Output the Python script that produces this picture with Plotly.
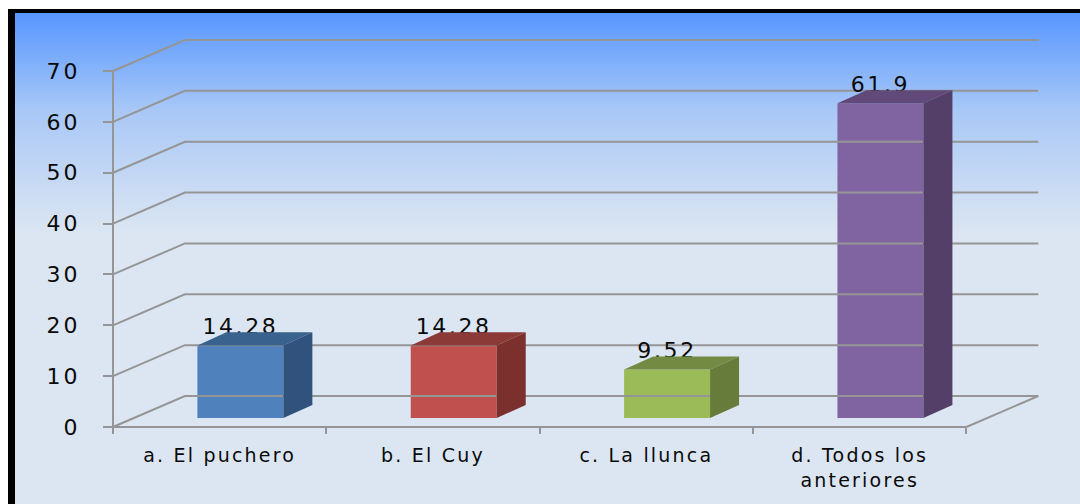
import plotly.graph_objects as go

categories = ["a. El puchero", "b. El Cuy", "c. La llunca", "d. Todos los<br>anteriores"]
values = [14.28, 14.28, 9.52, 61.9]
value_labels = ["14.28", "14.28", "9.52", "61.9"]
y_ticks = [0, 10, 20, 30, 40, 50, 60, 70]

front_colors = ["#4F81BD", "#C0504D", "#9BBB59", "#8064A2"]
side_colors = ["#30527C", "#7B302E", "#677C3B", "#533F68"]
top_colors = ["#3A628F", "#8C3A38", "#728A42", "#614A7A"]

GRID = "#959595"
TEXT = "#0A0A0A"

# fake 3d depth, in axis units
wall_dx, wall_dy = 0.337, 6.1
bar_dx, bar_dy = 0.136, 2.56
bar_base = 1.77
bar_width = 0.403
bar_shift = 0.597
label_gap = 3.3

# page margin off, and the stretched look of the original text
PAGE_JS = """
document.body.style.margin = '0';
var st = document.createElement('style');
st.textContent = '.x2tick text{letter-spacing:2.2px} .y2tick text{letter-spacing:3px} .textpoint text{letter-spacing:2.6px}';
document.head.appendChild(st);
"""

fig = go.Figure()

# background gradient lives on the first axes so it stays behind the chart
fig.add_trace(go.Scatter(
    x=[15, 1080, 1080, 15, 15], y=[0, 0, 491, 491, 0],
    xaxis="x", yaxis="y", mode="none", fill="toself", hoverinfo="skip",
    fillgradient=dict(type="vertical", colorscale=[
        [0, "#DCE6F2"], [0.55, "#DCE6F2"], [0.8, "#A9C8F6"], [1, "#5797FF"]]),
))


def line(xs, ys, width=2):
    fig.add_trace(go.Scatter(x=xs, y=ys, xaxis="x2", yaxis="y2", mode="lines",
                             line=dict(color=GRID, width=width), hoverinfo="skip"))


# back wall grid and the left side wall
for v in y_ticks:
    line([0, wall_dx, 4 + wall_dx], [v, v + wall_dy, v + wall_dy])
line([4, 4 + wall_dx], [0, wall_dy])
line([0, 0], [0, 70])
line([0, 4], [0, 0])

xs = [i + bar_shift for i in range(len(values))]

fig.add_trace(go.Bar(x=xs, y=values, base=bar_base, width=bar_width, xaxis="x2", yaxis="y2",
                     marker=dict(color=front_colors, line_width=0), hoverinfo="skip"))

# labels go under the top faces, the faces cut them off a bit in the original
fig.add_trace(go.Scatter(x=xs, y=[v + bar_base + label_gap for v in values], xaxis="x2", yaxis="y2",
                         mode="text", text=value_labels, textposition="middle center",
                         textfont=dict(family="DejaVu Sans", size=22, color=TEXT), hoverinfo="skip"))

for x, v, side, top in zip(xs, values, side_colors, top_colors):
    x0, x1 = x - bar_width / 2, x + bar_width / 2
    y1 = bar_base + v
    fig.add_trace(go.Scatter(
        x=[x0, x1, x1 + bar_dx, x0 + bar_dx, x0], y=[y1, y1, y1 + bar_dy, y1 + bar_dy, y1],
        xaxis="x2", yaxis="y2", mode="none", fill="toself", fillcolor=top, hoverinfo="skip"))
    fig.add_trace(go.Scatter(
        x=[x1, x1 + bar_dx, x1 + bar_dx, x1, x1], y=[bar_base, bar_base + bar_dy, y1 + bar_dy, y1, bar_base],
        xaxis="x2", yaxis="y2", mode="none", fill="toself", fillcolor=side, hoverinfo="skip"))

fig.update_layout(
    width=1080, height=504,
    margin=dict(l=0, r=0, t=0, b=0, autoexpand=False),
    showlegend=False,
    paper_bgcolor="white",
    plot_bgcolor="rgba(0,0,0,0)",
    font=dict(family="DejaVu Sans", color=TEXT),
    shapes=[dict(type="rect", xref="paper", yref="paper", x0=8 / 1080, x1=1, y0=0, y1=495 / 504,
                 fillcolor="black", line_width=0, layer="below")],
    xaxis=dict(domain=[0, 1], range=[0, 1080], visible=False, fixedrange=True),
    yaxis=dict(domain=[0, 1], range=[0, 504], visible=False, fixedrange=True),
    # domains start 4px before the zero lines, lines get clipped at the subplot edge otherwise
    xaxis2=dict(
        domain=[109 / 1080, 1040 / 1080], range=[-0.01875, 4.345], automargin=False,
        anchor="free", position=77 / 504,
        tickmode="array", tickvals=[0.5, 1.5, 2.5, 3.5], ticktext=categories,
        ticks="", showgrid=False, zeroline=False, showline=False,
        tickfont=dict(size=19, color=TEXT), ticklabelstandoff=15,
        minor=dict(tickmode="array", tickvals=[0, 1, 2, 3, 4], ticks="outside",
                   ticklen=6, tickwidth=2, tickcolor=GRID, showgrid=False),
    ),
    yaxis2=dict(
        domain=[73 / 504, 465 / 504], range=[-0.786, 76.3], automargin=False,
        anchor="free", position=113 / 1080,
        tickmode="array", tickvals=y_ticks,
        ticks="outside", ticklen=10, tickwidth=2, tickcolor=GRID,
        showgrid=False, zeroline=False, showline=False,
        tickfont=dict(size=22, color=TEXT), ticklabelstandoff=18,
    ),
)

fig.write_html("out.html", config=dict(displayModeBar=False), post_script=PAGE_JS)
